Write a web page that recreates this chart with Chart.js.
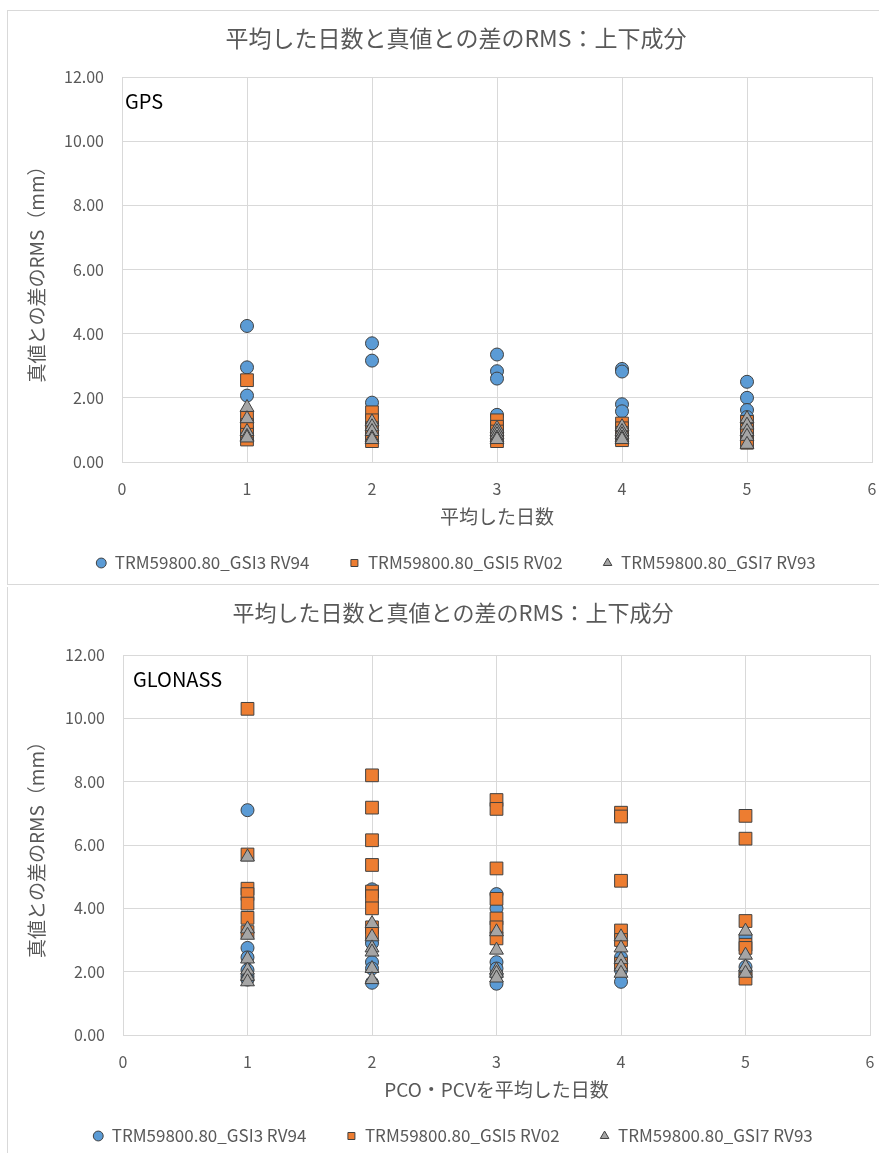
<!DOCTYPE html>
<html>
<head>
<meta charset="utf-8">
<script src="https://cdn.jsdelivr.net/npm/chart.js@4.4.0/dist/chart.umd.min.js"></script>
<style>
  body { margin: 0; background: #fff; width: 879px; height: 1153px; position: relative; overflow: hidden; }
  .box { position: absolute; background: #fff; }
  #box1 { left: 7px; top: 10px; width: 900px; height: 573px; border: 1px solid #d9d9d9; }
  #box2 { left: 7px; top: 587px; width: 900px; height: 580px; border-left: 1px solid #d9d9d9; }
  canvas { position: absolute; left: 0; }
</style>
</head>
<body>
<div class="box" id="box1"></div>
<div class="box" id="box2"></div>
<canvas id="gps" width="912" height="585" style="top:0px"></canvas>
<canvas id="glonass" width="906" height="572" style="top:587px"></canvas>
<script>
// series names
const seriesNames = ['TRM59800.80_GSI3 RV94', 'TRM59800.80_GSI5 RV02', 'TRM59800.80_GSI7 RV93'];
const chartTitle = '平均した日数と真値との差のRMS：上下成分';
const yTitle = '真値との差のRMS（mm）';

// GPS: values per averaged day count (1..5)
const gpsDays = [1, 2, 3, 4, 5];
const gpsGSI3 = [
  [4.24, 2.95, 2.07, 1.05, 0.85],
  [3.70, 3.16, 1.85, 1.20, 0.90],
  [3.35, 2.83, 2.60, 1.47, 1.00],
  [2.90, 2.82, 1.80, 1.58, 1.00],
  [2.50, 2.00, 1.62, 1.40, 1.10]
];
const gpsGSI5 = [
  [2.55, 1.40, 1.15, 0.85, 0.70],
  [1.55, 1.30, 1.05, 0.80, 0.65],
  [1.30, 1.10, 0.95, 0.75, 0.65],
  [1.20, 1.05, 0.90, 0.75, 0.68],
  [1.25, 1.00, 0.85, 0.70, 0.60]
];
const gpsGSI7 = [
  [1.70, 1.35, 0.95, 0.80, 0.75],
  [1.25, 1.10, 0.95, 0.75, 0.70],
  [1.05, 0.95, 0.85, 0.75, 0.70],
  [1.10, 0.95, 0.85, 0.75, 0.70],
  [1.35, 1.15, 0.95, 0.80, 0.55]
];

// GLONASS
const glnDays = [1, 2, 3, 4, 5];
const glnGSI3 = [
  [7.10, 2.75, 2.45, 2.05, 1.85, 1.75],
  [4.60, 2.90, 2.30, 2.10, 1.65],
  [4.45, 4.00, 2.30, 2.10, 1.90, 1.62],
  [2.45, 2.25, 2.05, 1.68],
  [3.10, 2.15, 2.00, 1.90]
];
const glnGSI5 = [
  [10.30, 5.70, 4.62, 4.45, 4.15, 3.70, 3.25],
  [8.20, 7.18, 6.15, 5.37, 4.53, 4.38, 4.00, 3.40, 3.20],
  [7.42, 7.14, 5.26, 4.30, 3.68, 3.40, 3.05],
  [7.02, 6.90, 4.87, 3.30, 3.00, 2.25],
  [6.92, 6.20, 3.60, 2.85, 2.75, 1.78]
];
const glnGSI7 = [
  [5.62, 3.35, 3.15, 2.40, 2.05, 1.85, 1.68],
  [3.52, 3.10, 2.75, 2.62, 2.10, 1.75],
  [3.26, 2.68, 2.05, 1.95, 1.80],
  [3.10, 2.75, 2.38, 2.15, 1.95],
  [3.28, 2.52, 2.15, 1.95]
];

const colors = ['#5B9BD5', '#ED7D31', '#A5A5A5'];
const shapes = ['circle', 'rect', 'triangle'];
const sizes = [6.5, 9, 8];
const textColor = '#595959';
const gridColor = '#d9d9d9';
const jp = '"Noto Sans CJK JP", "Noto Sans", sans-serif';

function toPoints(days, rows) {
  const pts = [];
  days.forEach((d, i) => rows[i].forEach(v => pts.push({ x: d, y: v })));
  return pts;
}

// label like "GPS" in the top-left corner of the plot
const cornerLabel = {
  id: 'cornerLabel',
  afterDraw(chart, args, opts) {
    const ctx = chart.ctx, a = chart.chartArea;
    ctx.save();
    ctx.font = '20px ' + jp;
    ctx.fillStyle = '#000';
    ctx.textBaseline = 'middle';
    ctx.fillText(opts.text, a.left + opts.dx, a.top + opts.dy);
    ctx.restore();
  }
};

// light border round the plot area
const frame = {
  id: 'frame',
  beforeDatasetsDraw(chart, args, opts) {
    if (!opts.show) return;
    const ctx = chart.ctx, a = chart.chartArea;
    ctx.save();
    ctx.strokeStyle = gridColor;
    ctx.lineWidth = 1;
    ctx.strokeRect(a.left + 0.5, a.top + 0.5, a.right - a.left, a.bottom - a.top);
    ctx.restore();
  }
};

function makeChart(id, label, days, sets, xTitle, dims) {
  const datasets = sets.map((rows, k) => ({
    label: seriesNames[k],
    data: toPoints(days, rows),
    order: 3 - k,
    pointStyle: shapes[k],
    pointRadius: sizes[k],
    pointHoverRadius: sizes[k],
    backgroundColor: colors[k],
    borderColor: '#404040',
    borderWidth: 1
  }));
  return new Chart(document.getElementById(id), {
    type: 'scatter',
    data: { datasets },
    plugins: [cornerLabel, frame],
    options: {
      responsive: false,
      animation: false,
      layout: { padding: { left: 0, right: 0, top: 0, bottom: dims.padBottom } },
      plugins: {
        cornerLabel: { text: label, dx: dims.labelDx, dy: 24 },
        frame: { show: dims.frame },
        title: {
          display: true,
          text: chartTitle,
          color: textColor,
          font: { family: jp, size: dims.titleSize, weight: 'normal' },
          padding: { top: dims.titleTop, bottom: dims.titleBottom }
        },
        legend: {
          position: 'bottom',
          labels: {
            usePointStyle: true,
            boxWidth: 10,
            boxHeight: 7,
            padding: 40,
            color: textColor,
            font: { family: jp, size: 17 },
            generateLabels(chart) {
              return chart.data.datasets.map((ds, i) => ({
                text: ds.label,
                fillStyle: ds.backgroundColor,
                strokeStyle: '#404040',
                lineWidth: 1,
                pointStyle: ds.pointStyle,
                datasetIndex: i,
                fontColor: textColor
              }));
            }
          }
        },
        tooltip: { enabled: false }
      },
      scales: {
        x: {
          min: 0, max: 6,
          ticks: { stepSize: 1, color: textColor, font: { family: jp, size: 16 }, padding: 17 },
          grid: { color: gridColor, drawTicks: false },
          border: { color: gridColor },
          title: {
            display: true, text: xTitle, color: textColor,
            font: { family: jp, size: 19 }, padding: { top: 0, bottom: -14 }
          },
          afterFit(s) { s.height = 52.5; }
        },
        y: {
          min: 0, max: 12,
          ticks: {
            stepSize: 2, color: textColor, font: { family: jp, size: 16 }, padding: 18,
            callback: v => v.toFixed(2)
          },
          grid: { color: gridColor, drawTicks: false },
          border: { color: gridColor },
          title: {
            display: true, text: yTitle, color: textColor,
            font: { family: jp, size: 19 }, padding: { top: 25.6, bottom: 0 }
          },
          afterFit(s) { s.width = dims.yWidth; }
        },
        // empty right-hand axis, only to leave the blank space on the right
        yRight: {
          position: 'right',
          min: 0, max: 12,
          ticks: { display: false },
          grid: { display: false },
          border: { display: false },
          afterFit(s) { s.width = dims.rightWidth; }
        }
      }
    }
  });
}

makeChart('gps', 'GPS', gpsDays, [gpsGSI3, gpsGSI5, gpsGSI7], '平均した日数',
  { padBottom: 3.5, titleSize: 23, titleTop: 24.2, titleBottom: 25.2, yWidth: 122, rightWidth: 40, labelDx: 3, frame: true });
makeChart('glonass', 'GLONASS', glnDays, [glnGSI3, glnGSI5, glnGSI7], 'PCO・PCVを平均した日数',
  { padBottom: 4.5, titleSize: 22, titleTop: 12.8, titleBottom: 28.8, yWidth: 123, rightWidth: 36, labelDx: 10, frame: false });
</script>
</body>
</html>
